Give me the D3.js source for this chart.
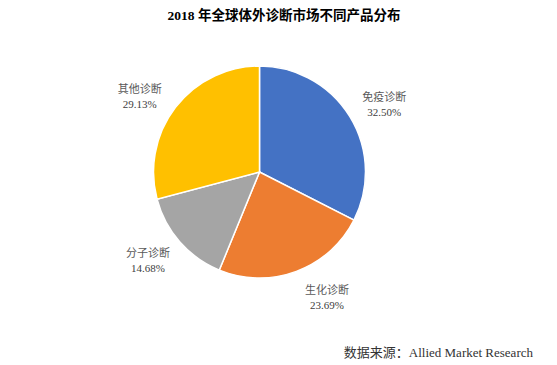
<!DOCTYPE html>
<html>
<head>
<meta charset="utf-8">
<script src="https://cdn.jsdelivr.net/npm/d3@7"></script>
<style>
    body { margin: 0; background: #fff; }
    svg text { font-family: "Liberation Serif", "DejaVu Serif", "Noto Sans CJK SC", serif; }
</style>
</head>
<body>
<svg id="chart" width="557" height="365"></svg>
<script>
let categories = ['免疫诊断', '生化诊断', '分子诊断', '其他诊断']
let shares = [32.50, 23.69, 14.68, 29.13]
let shareLabels = ['32.50%', '23.69%', '14.68%', '29.13%']

let colors = ['#4472c4', '#ed7d31', '#a5a5a5', '#ffc000']

// excel "best fit" puts labels a little off the slice middle
let labelNudge = [3, -8, 3, -5]

let width = 557
let height = 365
let cx = 259.5
let cy = 172
let radius = 106
let labelRadius = 142

let svg = d3.select('#chart')

svg.append('text')
    .attr('x', 284)
    .attr('y', 20)
    .attr('text-anchor', 'middle')
    .style('font-size', '13.5px')
    .style('font-weight', 'bold')
    .style('fill', '#000')
    .text('2018 年全球体外诊断市场不同产品分布')

let data = categories.map((c, i) => ({ name: c, value: shares[i], label: shareLabels[i], i: i }))

let pie = d3.pie()
    .value(d => d.value)
    .sort(null)

let arc = d3.arc()
    .innerRadius(0)
    .outerRadius(radius)

let arcs = pie(data)

let g = svg.append('g')
    .attr('transform', `translate(${cx},${cy})`)

g.selectAll('path')
    .data(arcs)
    .join('path')
    .attr('d', arc)
    .attr('fill', d => colors[d.data.i])
    .attr('stroke', '#fff')
    .attr('stroke-width', 1.5)

let labels = g.selectAll('text.lbl')
    .data(arcs)
    .join('text')
    .attr('class', 'lbl')
    .attr('text-anchor', 'middle')
    .style('font-size', '11px')
    .attr('transform', d => {
        let a = (d.startAngle + d.endAngle) / 2 + labelNudge[d.data.i] * Math.PI / 180
        let x = labelRadius * Math.sin(a)
        let y = -labelRadius * Math.cos(a)
        return `translate(${x},${y})`
    })

labels.append('tspan')
    .attr('x', 0)
    .attr('y', -3)
    .style('fill', '#595959')
    .text(d => d.data.name)

labels.append('tspan')
    .attr('x', 0)
    .attr('y', 12)
    .style('fill', '#404040')
    .text(d => d.data.label)

svg.append('text')
    .attr('x', 533)
    .attr('y', 357)
    .attr('text-anchor', 'end')
    .style('font-size', '13px')
    .style('fill', '#333')
    .text('数据来源：Allied Market Research')
</script>
</body>
</html>
